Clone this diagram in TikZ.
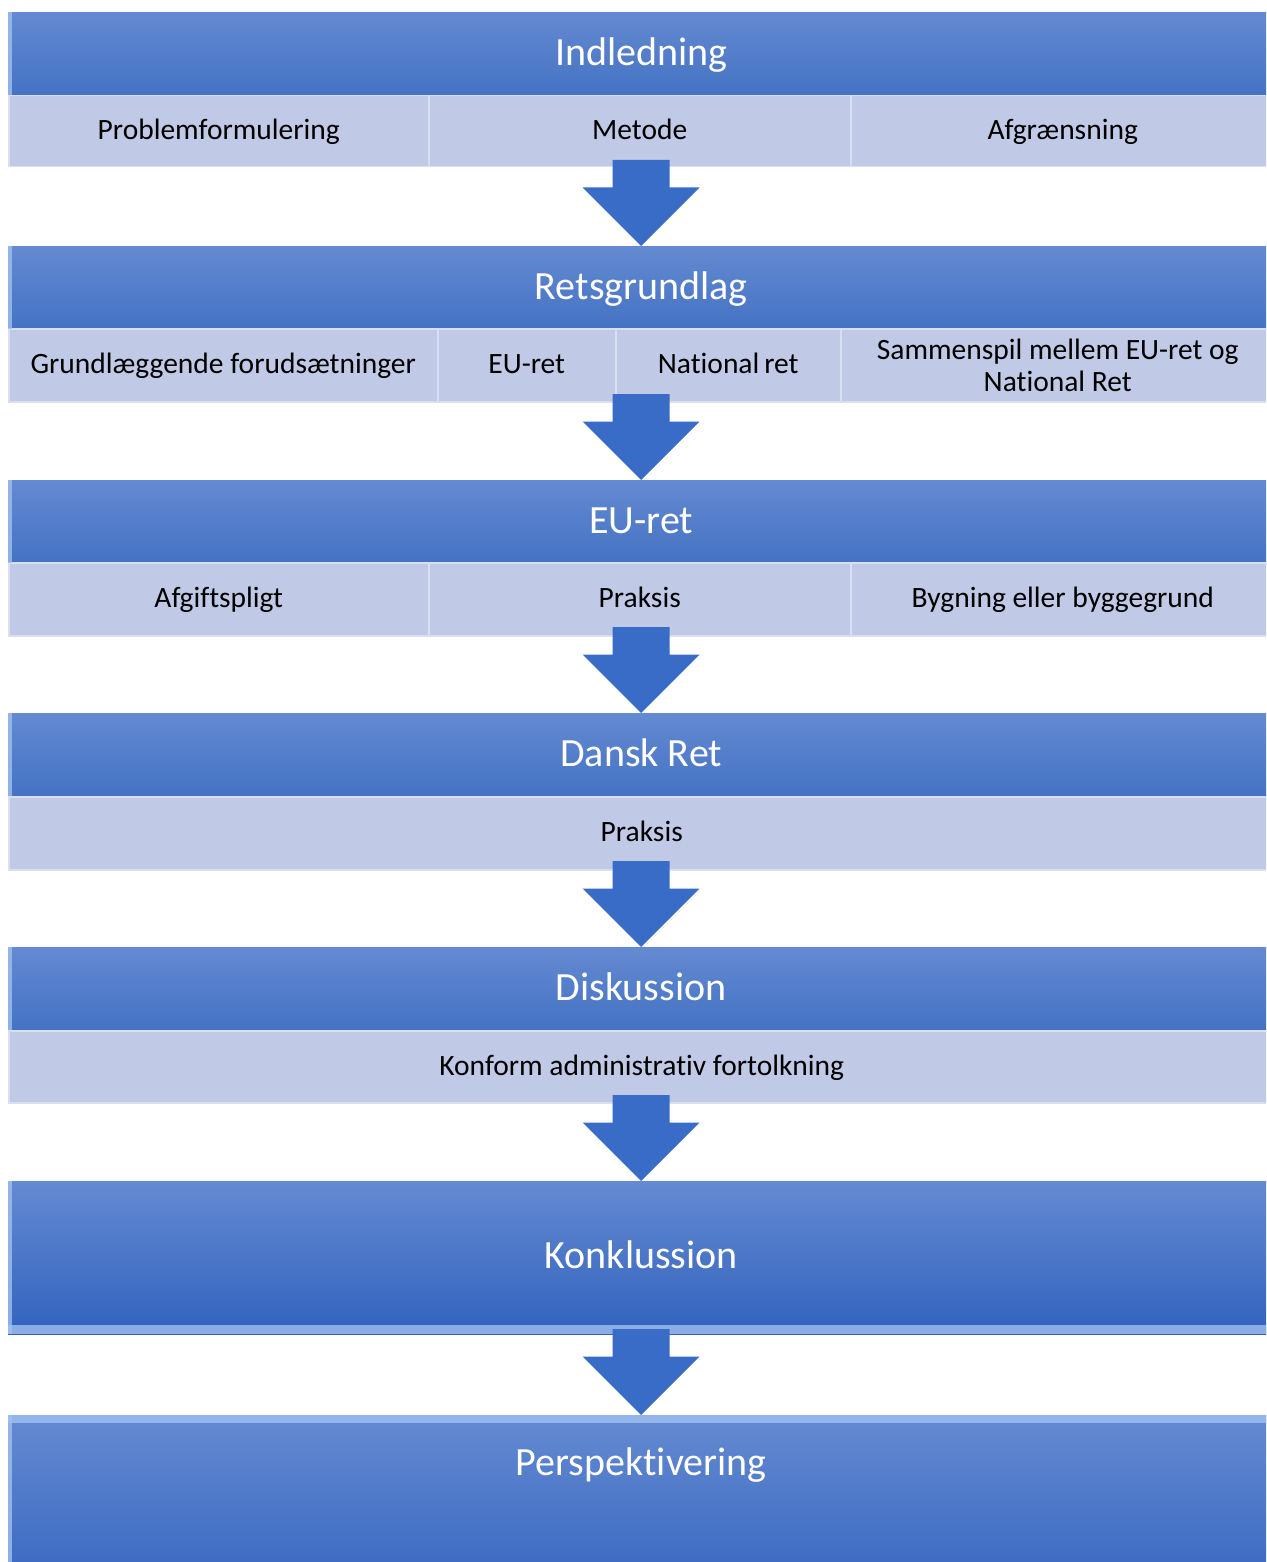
\documentclass[tikz,border=0pt]{standalone}
\usepackage{fontspec}
\setmainfont{Carlito}[Ligatures=NoCommon]
\usetikzlibrary{calc}
\definecolor{hdtop}{RGB}{100,138,209}
\definecolor{hdbot}{RGB}{68,114,196}
\definecolor{kbot}{RGB}{50,98,190}
\definecolor{subfill}{RGB}{192,202,230}
\definecolor{subedge}{RGB}{216,223,241}
\definecolor{arrowc}{RGB}{57,108,199}
\definecolor{bevel}{RGB}{160,192,240}
\tikzset{
  hdr/.style={rectangle, inner sep=0pt, anchor=north west, minimum width=1266pt, minimum height=83pt,
    top color=hdtop, bottom color=hdbot, draw=none, text=white, font=\fontsize{40}{48}\selectfont,
    text height=30pt, text depth=7pt},
  bigbox/.style={rectangle, inner sep=0pt, anchor=north west, minimum width=1266pt,
    top color=hdtop, bottom color=kbot, draw=none, text=white, font=\fontsize{40}{48}\selectfont,
    text height=29pt, text depth=8pt},
  bigtext/.style={inner sep=0pt, text=white, font=\fontsize{40}{48}\selectfont},
  subcell/.style={rectangle, inner sep=0pt, anchor=north west, minimum height=71pt, fill=subfill,
    draw=subedge, line width=1.5pt, text=black, font=\fontsize{29.5}{32}\selectfont, align=center},
  onel/.style={text height=21pt, text depth=4pt},
  arrowfill/.style={fill=arrowc},
  bevelstrip/.style={fill=bevel, opacity=0.8}
}
\newcommand\blockarrowto[1]{%
  \fill[arrowfill] (#1.north) -- ++(-58.5,58.5) -- ++(30,0) -- ++(0,27.5) -- ++(57,0)
    -- ++(0,-27.5) -- ++(30,0) -- cycle;}
\begin{document}
\begin{tikzpicture}[x=1pt,y=1pt]
\clip (0,0) rectangle (1266,-1562);
\fill[white] (0,0) rectangle (1266,-1562);

% group 1
\node[hdr] (h1) at (8,-12) {Indledning};
\node[subcell, onel, minimum width=420pt] (s11) at (8,-95) {Problemformulering};
\node[subcell, onel, minimum width=422pt] (s12) at (428,-95) {Metode};
\node[subcell, onel, minimum width=424pt] (s13) at (850,-95) {Afgrænsning};

% group 2
\node[hdr] (h2) at (8,-246) {Retsgrundlag};
\node[subcell, onel, minimum width=429pt, minimum height=73pt] (s21) at (8,-328) {Grundlæggende forudsætninger};
\node[subcell, onel, minimum width=178pt, minimum height=73pt] (s22) at (437,-328) {EU-ret};
\node[subcell, onel, minimum width=225pt, minimum height=73pt] (s23) at (615,-328) {National\,ret};
\node[subcell, minimum width=434pt, minimum height=73pt] (s24) at (840,-328) {Sammenspil mellem EU-ret og\\National Ret};

% group 3
\node[hdr] (h3) at (8,-480) {EU-ret};
\node[subcell, onel, minimum width=420pt, minimum height=73pt] (s31) at (8,-562) {Afgiftspligt};
\node[subcell, onel, minimum width=422pt, minimum height=73pt] (s32) at (428,-562) {Praksis};
\node[subcell, onel, minimum width=424pt, minimum height=73pt] (s33) at (850,-562) {Bygning eller byggegrund};

% group 4
\node[hdr] (h4) at (8,-713) {Dansk Ret};
\node[subcell, onel, minimum width=1266pt, minimum height=73pt] (s41) at (8,-796) {Praksis};

% group 5
\node[hdr] (h5) at (8,-947) {Diskussion};
\node[subcell, onel, minimum width=1266pt, minimum height=72pt] (s51) at (8,-1030) {Konform administrativ fortolkning};

% group 6
\node[bigbox, minimum height=153pt] (h6) at (8,-1181) {Konklussion};
\fill[bevelstrip] ($(h6.south west)+(0,9)$) rectangle (h6.south east);

% group 7
\node[bigbox, minimum height=200pt] (h7) at (8,-1415) {};
\fill[bevelstrip] (h7.north west) rectangle ($(h7.north east)+(0,-8)$);
\node[bigtext, anchor=base] (t7) at ($(h7.north)+(0,-60)$) {Perspektivering};

% left bevels on headers
\foreach \n in {h1,h2,h3,h4,h5,h6,h7}{
  \fill[bevelstrip] (\n.north west) rectangle ($(\n.south west)+(4,0)$);
}

% block arrows
\blockarrowto{h2}
\blockarrowto{h3}
\blockarrowto{h4}
\blockarrowto{h5}
\blockarrowto{h6}
\blockarrowto{h7}
\end{tikzpicture}
\end{document}
